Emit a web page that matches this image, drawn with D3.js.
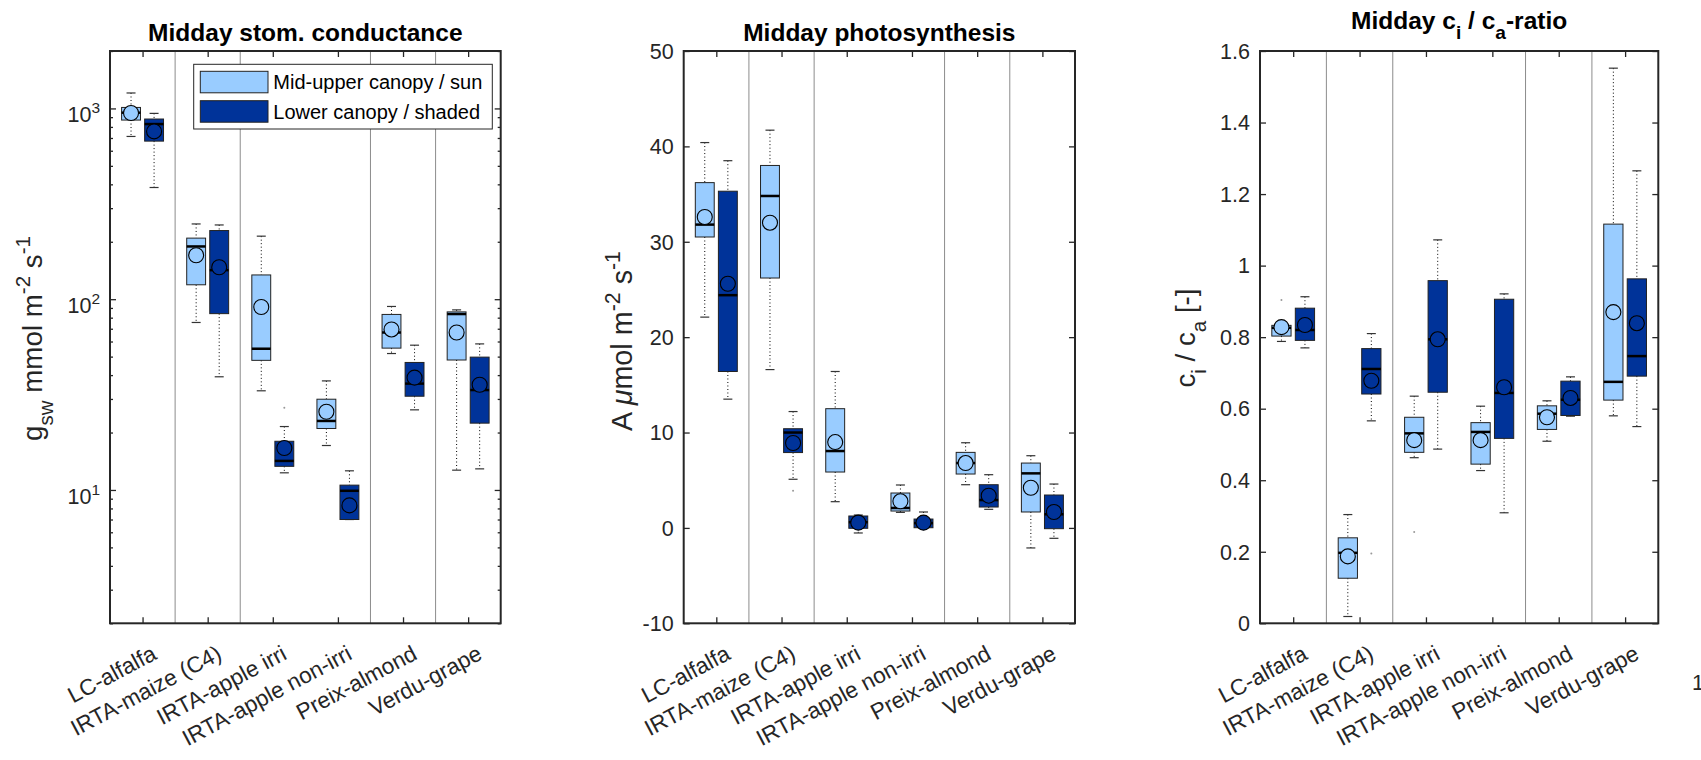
<!DOCTYPE html>
<html>
<head>
<meta charset="utf-8">
<script src="https://cdn.jsdelivr.net/npm/d3@7"></script>
<style>
  body { margin: 0; background: #fff; }
  svg { font-family: "Liberation Sans", Arial, sans-serif; }
</style>
</head>
<body>
<svg id="chart"></svg>
<script>
const categories = ["LC-alfalfa", "IRTA-maize (C4)", "IRTA-apple irri", "IRTA-apple non-irri", "Preix-almond", "Verdu-grape"];
const seriesNames = ["Mid-upper canopy / sun", "Lower canopy / shaded"];
const groupSeparators = [1.5, 2.5, 4.5, 5.5];

// each box: [lower whisker, q1, median, q3, upper whisker, mean]
const gswSun = [
  [713, 869, 950, 1012, 1205, 946],
  [75.5, 119, 189, 209, 248, 170],
  [33.1, 47.8, 55, 134, 214, 91],
  [17.1, 21.0, 23.0, 29.9, 37.3, 25.7],
  [51.9, 55.4, 66.9, 83.2, 91.6, 69.4],
  [12.7, 48, 83.6, 85.8, 87.9, 66.9]
];
const gswShade = [
  [385, 674, 828, 880, 942, 758],
  [39.2, 84, 142, 229, 245, 147],
  [12.3, 13.3, 14.2, 18.0, 21.5, 16.6],
  [7.0, 7.0, 9.9, 10.6, 12.6, 8.3],
  [26.3, 31.0, 36.1, 46.6, 57.4, 38.8],
  [12.9, 22.4, 33.4, 49.7, 58.3, 35.6]
];
// outliers: [category index, series index (0 sun, 1 shade), value]
const gswOutliers = [[2, 1, 27]];

const aSun = [
  [22.1, 30.5, 31.8, 36.2, 40.4, 32.6],
  [16.6, 26.2, 34.8, 38.0, 41.7, 32.0],
  [2.75, 5.86, 8.06, 12.5, 16.4, 9.0],
  [1.63, 1.77, 2.09, 3.66, 4.5, 2.79],
  [4.53, 5.65, 6.8, 7.92, 8.93, 6.8],
  [-2.1, 1.67, 5.72, 6.8, 7.57, 4.21]
];
const aShade = [
  [13.5, 16.4, 24.4, 35.3, 38.5, 25.6],
  [5.1, 7.9, 10.0, 10.4, 12.2, 8.9],
  [-0.53, -0.04, 0.6, 1.25, 1.35, 0.55],
  [0.02, 0.02, 0.5, 0.93, 1.67, 0.55],
  [1.95, 2.19, 2.92, 4.53, 5.58, 3.38],
  [-1.09, -0.08, 1.43, 3.45, 4.6, 1.67]
];
const aOutliers = [[1, 1, 3.9]];

const ciSun = [
  [0.788, 0.803, 0.826, 0.833, 0.835, 0.828],
  [0.019, 0.126, 0.197, 0.239, 0.304, 0.187],
  [0.463, 0.478, 0.531, 0.576, 0.635, 0.512],
  [0.427, 0.445, 0.535, 0.561, 0.607, 0.512],
  [0.509, 0.542, 0.586, 0.608, 0.622, 0.576],
  [0.580, 0.624, 0.675, 1.116, 1.552, 0.870]
];
const ciShade = [
  [0.770, 0.791, 0.820, 0.881, 0.913, 0.834],
  [0.566, 0.641, 0.711, 0.768, 0.810, 0.678],
  [0.487, 0.646, 0.794, 0.958, 1.072, 0.794],
  [0.309, 0.517, 0.644, 0.906, 0.921, 0.660],
  [0.579, 0.581, 0.625, 0.677, 0.689, 0.630],
  [0.550, 0.691, 0.747, 0.963, 1.265, 0.839]
];
const ciOutliers = [[0, 0, 0.904], [2, 0, 0.255], [1, 1, 0.195]];

const linTicksA = [-10, 0, 10, 20, 30, 40, 50];
const linTicksCi = [0, 0.2, 0.4, 0.6, 0.8, 1, 1.2, 1.4, 1.6];
const logMajor = [10, 100, 1000];

const width = 1701, height = 760;
const colors = ["#99ccff", "#003399"];
const axisColor = "#262626";
const plotTop = 51, plotBottom = 623.3;
const tickFont = 21.5, catFont = 22.5;

const svg = d3.select("#chart").attr("width", width).attr("height", height);

// rich text helper: parts [text, mode] mode: 0 normal, 1 sub, 2 super, 3 italic
function rich(sel, parts, size, smallRatio) {
  sel.selectAll("tspan").remove();
  sel.attr("font-size", size);
  let shift = 0;
  parts.forEach(([t, mode]) => {
    const ts = sel.append("tspan").text(t);
    let target = 0;
    if (mode === 1) target = size * 0.38;
    if (mode === 2) target = -size * 0.42;
    ts.attr("dy", target - shift);
    shift = target;
    if (mode === 1 || mode === 2) ts.attr("font-size", size * smallRatio);
    if (mode === 3) ts.attr("font-style", "italic");
  });
}

function drawPanel(cfg) {
  const g = svg.append("g");
  const x = d3.scaleLinear().domain([0.5, 6.5]).range([cfg.left, cfg.right]);
  const y = cfg.log
    ? d3.scaleLog().domain(cfg.domain).range([plotBottom, plotTop])
    : d3.scaleLinear().domain(cfg.domain).range([plotBottom, plotTop]);
  const unit = x(2) - x(1);
  const off = 0.177, bw = 0.29 * unit, cap = 9;

  // group separators
  g.selectAll(".sep").data(groupSeparators).enter().append("line")
    .attr("x1", d => x(d)).attr("x2", d => x(d))
    .attr("y1", plotTop).attr("y2", plotBottom)
    .attr("stroke", "#8c8c8c").attr("stroke-width", 1);

  // x axis ticks (inward) bottom + top
  const xb = g.append("g").attr("transform", `translate(0,${plotBottom})`)
    .call(d3.axisBottom(x).tickValues([1, 2, 3, 4, 5, 6])
      .tickFormat(d => categories[d - 1]).tickSize(-6).tickSizeOuter(0));
  xb.selectAll("text")
    .attr("font-size", catFont).attr("fill", axisColor)
    .attr("text-anchor", "end").attr("dy", 0).attr("y", 0)
    .attr("transform", `translate(15,35) rotate(-28)`);
  g.append("g").attr("transform", `translate(0,${plotTop})`)
    .call(d3.axisTop(x).tickValues([1, 2, 3, 4, 5, 6]).tickFormat("").tickSize(-6).tickSizeOuter(0));

  // y axis ticks left + right
  let majors, minors = [];
  if (cfg.log) {
    majors = logMajor;
    for (let e = 0; e < 4; e++) for (let m = 2; m <= 9; m++) {
      const v = m * Math.pow(10, e);
      if (v >= cfg.domain[0] && v <= cfg.domain[1]) minors.push(v);
    }
  } else majors = cfg.ticks;
  [["L", cfg.left], ["R", cfg.right]].forEach(([s, px]) => {
    const mk = () => s === "L" ? d3.axisLeft(y) : d3.axisRight(y);
    g.append("g").attr("transform", `translate(${px},0)`)
      .call(mk().tickValues(majors).tickFormat("").tickSize(-6).tickSizeOuter(0));
    if (minors.length) g.append("g").attr("transform", `translate(${px},0)`)
      .call(mk().tickValues(minors).tickFormat("").tickSize(-3).tickSizeOuter(0));
  });
  g.selectAll(".domain").remove();
  g.selectAll(".tick line").attr("stroke", axisColor).attr("stroke-width", 1.3);

  // y tick labels
  if (cfg.log) {
    majors.forEach(v => {
      const t = g.append("text").attr("x", cfg.left - 10).attr("y", y(v) + 14)
        .attr("text-anchor", "end").attr("fill", axisColor);
      rich(t, [["10", 0], [String(Math.round(Math.log10(v))), 2]], tickFont, 0.72);
    });
  } else {
    g.selectAll(".ylab").data(majors).enter().append("text")
      .attr("x", cfg.left - 10).attr("y", d => y(d)).attr("dy", "0.36em")
      .attr("text-anchor", "end").attr("font-size", tickFont).attr("fill", axisColor)
      .text(d => String(+d.toFixed(1)));
  }

  // boxes
  [cfg.sun, cfg.shade].forEach((series, si) => {
    series.forEach((s, i) => {
      const cx = x(i + 1 + (si === 0 ? -off : off));
      const [lo, q1, med, q3, hi, mean] = s;
      g.append("line").attr("x1", cx).attr("x2", cx).attr("y1", y(hi)).attr("y2", y(q3))
        .attr("stroke", "#000").attr("stroke-dasharray", "1,2.5");
      g.append("line").attr("x1", cx).attr("x2", cx).attr("y1", y(q1)).attr("y2", y(lo))
        .attr("stroke", "#000").attr("stroke-dasharray", "1,2.5");
      [lo, hi].forEach(v => g.append("line")
        .attr("x1", cx - cap / 2).attr("x2", cx + cap / 2).attr("y1", y(v)).attr("y2", y(v))
        .attr("stroke", "#333").attr("stroke-width", 1.2));
      g.append("rect").attr("x", cx - bw / 2).attr("width", bw)
        .attr("y", y(q3)).attr("height", Math.max(0.5, y(q1) - y(q3)))
        .attr("fill", colors[si]).attr("stroke", "#222").attr("stroke-width", 1);
      g.append("line").attr("x1", cx - bw / 2).attr("x2", cx + bw / 2).attr("y1", y(med)).attr("y2", y(med))
        .attr("stroke", "#000").attr("stroke-width", 2.5);
      g.append("circle").attr("cx", cx).attr("cy", y(mean)).attr("r", 7.5)
        .attr("fill", colors[si]).attr("stroke", "#000").attr("stroke-width", 1.1);
    });
  });
  cfg.outliers.forEach(([ci, si, v]) => {
    g.append("circle").attr("cx", x(ci + 1 + (si === 0 ? -off : off))).attr("cy", y(v)).attr("r", 1)
      .attr("fill", "#999");
  });

  // axes box
  g.append("rect").attr("x", cfg.left).attr("y", plotTop)
    .attr("width", cfg.right - cfg.left).attr("height", plotBottom - plotTop)
    .attr("fill", "none").attr("stroke", axisColor).attr("stroke-width", 2);

  // title
  const tt = g.append("text").attr("x", (cfg.left + cfg.right) / 2).attr("y", cfg.titleY)
    .attr("text-anchor", "middle").attr("font-weight", "bold").attr("fill", "#000");
  rich(tt, cfg.title, 24.5, 0.78);

  // y label: sized to span the same length as in the original figure, then centred
  const yl = g.append("text")
    .attr("transform", `translate(${cfg.labelX},${cfg.labelY}) rotate(-90)`)
    .attr("text-anchor", "middle").attr("fill", axisColor);
  rich(yl, cfg.ylabel, 25, 0.74);
  let bb = yl.node().getBBox();
  const fs = Math.max(22, Math.min(29, 25 * cfg.labelLen / bb.width));
  rich(yl, cfg.ylabel, fs, 0.74);
  bb = yl.node().getBBox();
  yl.attr("x", -(bb.x + bb.width / 2));
  return x;
}

drawPanel({
  left: 110, right: 500.7, log: true, domain: [2, 2000],
  sun: gswSun, shade: gswShade, outliers: gswOutliers, titleY: 40.7,
  title: [["Midday stom. conductance", 0]],
  labelX: 42, labelY: 338.5, labelLen: 205,
  ylabel: [["g", 0], ["sw", 1], [" mmol m", 0], ["-2", 2], [" s", 0], ["-1", 2]]
});
drawPanel({
  left: 683.7, right: 1075, log: false, domain: [-10, 50], ticks: linTicksA,
  sun: aSun, shade: aShade, outliers: aOutliers, titleY: 40.7,
  title: [["Midday photosynthesis", 0]],
  labelX: 632, labelY: 341, labelLen: 180,
  ylabel: [["A ", 0], ["\u03bc", 3], ["mol m", 0], ["-2", 2], [" s", 0], ["-1", 2]]
});
drawPanel({
  left: 1260, right: 1658.3, log: false, domain: [0, 1.6], ticks: linTicksCi,
  sun: ciSun, shade: ciShade, outliers: ciOutliers, titleY: 29.3,
  title: [["Midday c", 0], ["i", 1], [" / c", 0], ["a", 1], ["-ratio", 0]],
  labelX: 1195, labelY: 338, labelLen: 99,
  ylabel: [["c", 0], ["i", 1], [" / c", 0], ["a", 1], [" [-]", 0]]
});

// legend
const lg = svg.append("g");
lg.append("rect").attr("x", 193.7).attr("y", 64.3).attr("width", 298.6).attr("height", 64.7)
  .attr("fill", "#fff").attr("stroke", axisColor).attr("stroke-width", 1);
seriesNames.forEach((name, i) => {
  const yy = 71.3 + i * 29.4;
  lg.append("rect").attr("x", 200.3).attr("y", yy).attr("width", 67.7).attr("height", 21.5)
    .attr("fill", colors[i]).attr("stroke", "#222").attr("stroke-width", 1);
  lg.append("text").attr("x", 273.3).attr("y", yy + 10.75).attr("dy", "0.36em")
    .attr("font-size", 20).attr("fill", "#000").text(name);
});

// partly visible label of a neighbouring panel at the right edge
svg.append("text").attr("x", 1692).attr("y", 690).attr("font-size", tickFont).attr("fill", axisColor).text("1");
</script>
</body>
</html>
